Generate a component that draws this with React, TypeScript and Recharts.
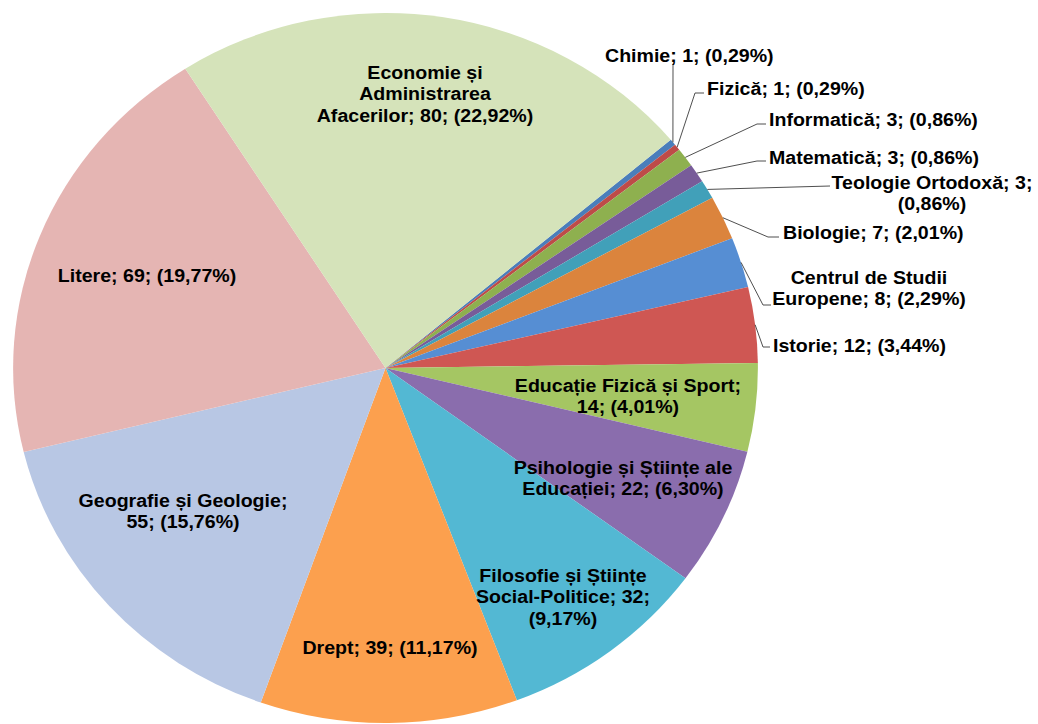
import { PieChart, Pie, Cell } from "recharts";

// data
const CATEGORIES = [
  "Chimie",
  "Fizică",
  "Informatică",
  "Matematică",
  "Teologie Ortodoxă",
  "Biologie",
  "Centrul de Studii Europene",
  "Istorie",
  "Educație Fizică și Sport",
  "Psihologie și Științe ale Educației",
  "Filosofie și Științe Social-Politice",
  "Drept",
  "Geografie și Geologie",
  "Litere",
  "Economie și Administrarea Afacerilor",
];
const VALUES = [1, 1, 3, 3, 3, 7, 8, 12, 14, 22, 32, 39, 55, 69, 80];
const COLORS = [
  "#4A7EBB",
  "#BE4B48",
  "#8EB04F",
  "#785C99",
  "#41A0B9",
  "#DB843D",
  "#568ED3",
  "#CF5753",
  "#A5C663",
  "#8A6DAD",
  "#53B8D3",
  "#FCA04E",
  "#B8C7E4",
  "#E5B5B3",
  "#D5E3BA",
];
// words per line of each label
const WRAP = [[6], [3], [3], [3], [3, 1], [3], [3, 3], [3], [4, 2], [4, 3], [3, 2, 1], [3], [3, 2], [3], [2, 1, 3]];

// layout (screen px)
const S = 1.049; // the picture is stretched horizontally
const CX = 385.5;
const CY = 368;
const R = 355;
const FONT = 18.67;
const LINE_H = 21.5;

type LabelPos = { x: number; y: number; anchor: "start" | "middle"; leader?: [number, number][] };
const LABEL_POS: LabelPos[] = [
  { x: 605, y: 55, anchor: "start", leader: [[673, 64]] },
  { x: 707, y: 88, anchor: "start", leader: [[695, 93], [704, 93]] },
  { x: 769, y: 119, anchor: "start", leader: [[757, 124], [766, 124]] },
  { x: 769, y: 157, anchor: "start", leader: [[757, 161], [766, 161]] },
  { x: 932, y: 182, anchor: "middle", leader: [[830, 186]] },
  { x: 783, y: 232, anchor: "start", leader: [[768, 237], [779, 237]] },
  { x: 869, y: 277, anchor: "middle", leader: [[763, 305], [771, 305]] },
  { x: 773, y: 345, anchor: "start", leader: [[763, 347], [770, 347]] },
  { x: 628, y: 385, anchor: "middle" },
  { x: 623, y: 467, anchor: "middle" },
  { x: 563, y: 575, anchor: "middle" },
  { x: 390, y: 647, anchor: "middle" },
  { x: 183, y: 500, anchor: "middle" },
  { x: 147, y: 275, anchor: "middle" },
  { x: 425, y: 72, anchor: "middle" },
];

const TOTAL = VALUES.reduce((a, b) => a + b, 0);
const chartData = CATEGORIES.map((name, i) => ({ name, value: VALUES[i] }));

function labelLines(i: number) {
  const pct = ((VALUES[i] / TOTAL) * 100).toFixed(2).replace(".", ",");
  const words = `${CATEGORIES[i]}; ${VALUES[i]}; (${pct}%)`.split(" ");
  const lines: string[] = [];
  let k = 0;
  WRAP[i].forEach((n) => {
    lines.push(words.slice(k, k + n).join(" "));
    k += n;
  });
  return lines;
}

const RADIAN = Math.PI / 180;

function renderLabel(props: any) {
  const { cx, cy, midAngle, outerRadius, index } = props;
  const pos = LABEL_POS[index];
  const lx = pos.x / S;
  const lines = labelLines(index);
  let leader = null;
  if (pos.leader) {
    const ex = cx + outerRadius * Math.cos(-midAngle * RADIAN);
    const ey = cy + outerRadius * Math.sin(-midAngle * RADIAN);
    const pts = [[ex, ey], ...pos.leader.map(([x, y]) => [x / S, y])];
    leader = (
      <polyline
        points={pts.map((p) => p.join(",")).join(" ")}
        fill="none"
        stroke="#404040"
        strokeWidth={0.9}
      />
    );
  }
  return (
    <g key={`lbl-${index}`}>
      {leader}
      <text
        x={lx}
        y={pos.y + FONT * 0.35}
        textAnchor={pos.anchor}
        fontSize={FONT}
        fontWeight="bold"
        fontFamily="'Liberation Sans', Arial, sans-serif"
        fill="#000"
      >
        {lines.map((l, i) => (
          <tspan key={i} x={lx} dy={i === 0 ? 0 : LINE_H}>
            {l}
          </tspan>
        ))}
      </text>
    </g>
  );
}

export default function App() {
  return (
    <div
      style={{
        position: "absolute",
        left: 0,
        top: 0,
        width: 1038 / S,
        height: 724,
        transform: `scaleX(${S})`,
        transformOrigin: "0 0",
      }}
    >
      <PieChart
        width={Math.ceil(1038 / S)}
        height={724}
        margin={{ top: 0, right: 0, bottom: 0, left: 0 }}
      >
        <Pie
          data={chartData}
          dataKey="value"
          nameKey="name"
          cx={CX / S}
          cy={CY}
          outerRadius={R}
          startAngle={40}
          endAngle={-320}
          stroke="none"
          label={renderLabel}
          labelLine={false}
          isAnimationActive={false}
        >
          {chartData.map((d, i) => (
            <Cell key={d.name} fill={COLORS[i]} />
          ))}
        </Pie>
      </PieChart>
    </div>
  );
}
